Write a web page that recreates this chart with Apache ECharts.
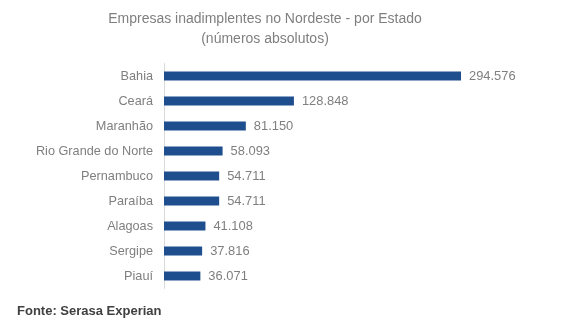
<!DOCTYPE html>
<html><head><meta charset="utf-8">
<script src="https://cdn.jsdelivr.net/npm/echarts@6/dist/echarts.min.js"></script>
<style>html,body{margin:0;padding:0;background:#fff}#c{width:561px;height:327px}</style>
</head><body><div id="c"></div>
<script>
const categories = ["Bahia","Ceará","Maranhão","Rio Grande do Norte","Pernambuco","Paraíba","Alagoas","Sergipe","Piauí"];
const values = [294576,128848,81150,58093,54711,54711,41108,37816,36071];
const titleLines = ["Empresas inadimplentes no Nordeste - por Estado","(números absolutos)"];
const sourceText = "Fonte: Serasa Experian";

function fmt(v){return String(v).replace(/\B(?=(\d{3})+(?!\d))/g,'.');}

const chart = echarts.init(document.getElementById('c'));
chart.setOption({
  animation:false,
  textStyle:{fontFamily:'Liberation Sans, Arial, sans-serif'},
  title:[{
    text:titleLines.join('\n'),
    left:265, top:9, textAlign:'center', padding:0,
    textStyle:{fontSize:14,fontWeight:'normal',color:'#7f7f7f',lineHeight:20,fontFamily:'Liberation Sans, Arial, sans-serif'}
  },{
    text:sourceText, left:17, top:305, padding:0,
    textStyle:{fontSize:13,fontWeight:'bold',color:'#404040',fontFamily:'Liberation Sans, Arial, sans-serif'}
  }],
  grid:{left:164, top:63.5, width:302.5, height:225, containLabel:false},
  xAxis:{type:'value', min:0, max:300000, show:false},
  yAxis:{type:'category', data:categories, inverse:true,
    axisLine:{show:true, lineStyle:{color:'#d9d9d9'}},
    axisTick:{show:false},
    axisLabel:{color:'#7f7f7f', fontSize:12.7, margin:11}
  },
  series:[{
    type:'bar', data:values, barWidth:9,
    itemStyle:{color:'#1f4e8f'},
    label:{show:true, position:'right', distance:8, color:'#7f7f7f', fontSize:12.9, formatter:p=>fmt(p.value)}
  }]
});
</script></body></html>
